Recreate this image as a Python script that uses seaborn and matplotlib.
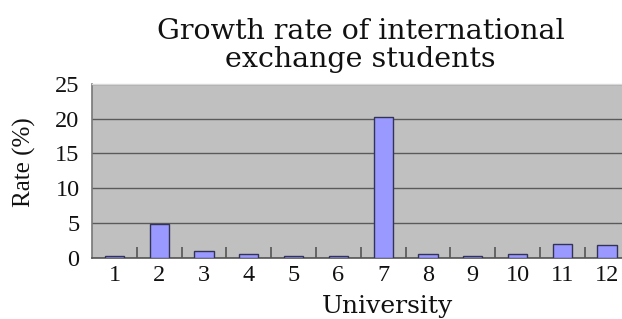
import matplotlib
matplotlib.use("Agg")
import matplotlib.pyplot as plt
import numpy as np
import pandas as pd
import seaborn as sns

# ---------------------------------------------------------------------------
UNIVERSITIES = ["1", "2", "3", "4", "5", "6", "7", "8", "9", "10", "11", "12"]
RATES        = [0.3, 4.9, 0.9, 0.5, 0.2, 0.2, 20.2, 0.5, 0.2, 0.5, 2.0, 1.8]
Y_TICKS      = [0, 5, 10, 15, 20, 25]

TITLE  = "Growth rate of international\nexchange students"
XLABEL = "University"
YLABEL = "Rate (%)"

BG_COLOR   = "#c0c0c0"
BAR_COLOR  = "#9999ff"
EDGE_COLOR = "#333355"
GRID_COLOR = "#5a5a5a"


def main():
    sns.set_style("white")
    df = pd.DataFrame({"university": UNIVERSITIES, "rate": RATES})

    fig = plt.figure(figsize=(6.22, 3.19), dpi=100)
    ax = fig.add_axes([0.148, 0.192, 0.864, 0.545])
    ax.set_facecolor(BG_COLOR)

    sns.barplot(data=df, x="university", y="rate", order=UNIVERSITIES,
                color=BAR_COLOR, saturation=1, width=0.43,
                edgecolor=EDGE_COLOR, linewidth=1.0, ax=ax, zorder=3)

    ax.set_ylim(0, 25)
    ax.set_xlim(-0.5, len(UNIVERSITIES) - 0.5)
    ax.set_yticks(Y_TICKS)
    ax.yaxis.grid(True, color=GRID_COLOR, linewidth=1.0, zorder=1)
    ax.set_axisbelow(True)

    # category separator ticks, Excel style
    ax.set_xticks(np.arange(len(UNIVERSITIES)) + 0.5, minor=True)
    ax.tick_params(axis="x", which="minor", bottom=True, direction="in",
                   length=8, width=1.2, color="#555555")
    ax.tick_params(axis="x", which="major", length=0, pad=5)
    ax.tick_params(axis="y", length=0, pad=9)

    for lbl in ax.get_xticklabels() + ax.get_yticklabels():
        lbl.set_fontfamily("Liberation Serif")
        lbl.set_fontsize(17.5)
        lbl.set_color("#111111")

    for side in ["top", "right"]:
        ax.spines[side].set_color("#d8d8d8")
        ax.spines[side].set_linewidth(1)
    ax.spines["left"].set_color("#777777")
    ax.spines["bottom"].set_color("#555555")
    ax.spines["left"].set_linewidth(1.2)
    ax.spines["bottom"].set_linewidth(1.2)

    ax.set_title(TITLE, fontfamily="DejaVu Serif", fontsize=20.5,
                 color="#111111", pad=12, linespacing=1.05)
    ax.set_xlabel(XLABEL, fontfamily="DejaVu Serif", fontsize=18,
                  color="#111111")
    ax.xaxis.set_label_coords(0.55, -0.215)
    ax.set_ylabel(YLABEL, fontfamily="Liberation Serif", fontsize=18,
                  color="#111111")
    ax.yaxis.set_label_coords(-0.105, 0.55)

    fig.savefig("out.png", dpi=100)
    plt.close(fig)


if __name__ == "__main__":
    main()
